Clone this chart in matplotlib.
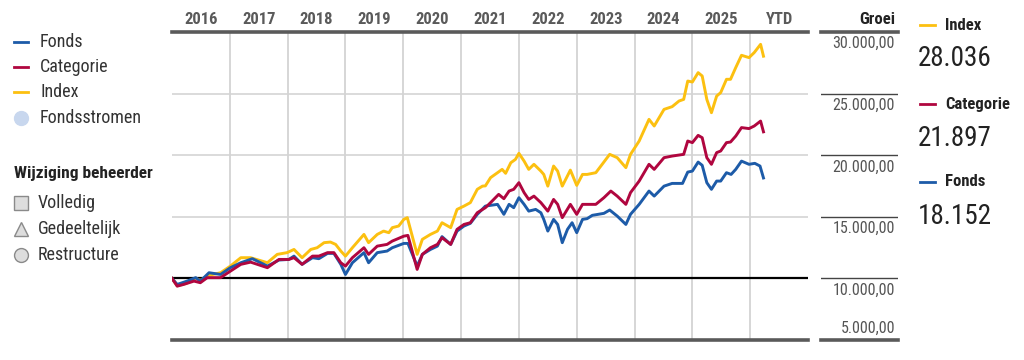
import numpy as np
import matplotlib
matplotlib.use("Agg")
import matplotlib.pyplot as plt
from matplotlib.lines import Line2D

plt.rcParams['font.family'] = ['Roboto Condensed', 'Barlow Semi Condensed', 'DejaVu Sans']

# Growth of 10.000, decimal years
index_t = [2016.00, 2016.09, 2016.25, 2016.41, 2016.49, 2016.63, 2016.84, 2017.01, 2017.19, 2017.36,
           2017.65, 2017.82, 2017.99, 2018.11, 2018.25, 2018.40, 2018.51, 2018.63, 2018.74, 2018.83,
           2018.92, 2019.00, 2019.12, 2019.32, 2019.40, 2019.55, 2019.66, 2019.75, 2019.81, 2019.92,
           2020.01, 2020.07, 2020.24, 2020.33, 2020.47, 2020.59, 2020.67, 2020.82, 2020.93, 2021.05,
           2021.16, 2021.28, 2021.37, 2021.42, 2021.51, 2021.63, 2021.71, 2021.77, 2021.86, 2021.94,
           2022.00, 2022.09, 2022.17, 2022.26, 2022.38, 2022.43, 2022.50, 2022.60, 2022.67, 2022.75,
           2022.89, 2023.00, 2023.10, 2023.18, 2023.33, 2023.44, 2023.57, 2023.70, 2023.85, 2023.93,
           2024.08, 2024.25, 2024.34, 2024.51, 2024.65, 2024.77, 2024.85, 2024.92, 2025.00, 2025.10,
           2025.17, 2025.25, 2025.33, 2025.42, 2025.49, 2025.59, 2025.66, 2025.75, 2025.85, 2025.98,
           2026.07, 2026.18, 2026.23]
index_v = [10000, 9400, 9600, 10000, 9840, 10240, 10460, 11000, 11680, 11680,
           11275, 11950, 12090, 12350, 11680, 12350, 12490, 12900, 12950, 12760,
           12220, 11810, 12490, 13570, 12900, 13570, 13840, 13710, 14120, 14250,
           14790, 14930, 11950, 13170, 13570, 13840, 14520, 14120, 15600, 15870,
           16150, 17230, 17490, 17510, 18180, 18580, 18850, 18530, 19390, 19660,
           20150, 19520, 18850, 19260, 18710, 18440, 17490, 19120, 18710, 17490,
           18790, 17550, 18440, 18440, 18580, 19260, 20070, 19800, 18990, 20070,
           21150, 22910, 22370, 23720, 23940, 24400, 24530, 26020, 25940, 26700,
           26430, 24530, 23450, 24800, 25080, 26160, 26160, 27110, 28110, 27920,
           28330, 29000, 28036]

cat_t = [2016.00, 2016.09, 2016.20, 2016.38, 2016.49, 2016.61, 2016.84, 2017.01, 2017.19, 2017.36,
         2017.65, 2017.85, 2018.02, 2018.11, 2018.25, 2018.43, 2018.54, 2018.69, 2018.80, 2018.92,
         2019.00, 2019.12, 2019.32, 2019.40, 2019.55, 2019.72, 2019.81, 2020.01, 2020.08, 2020.24,
         2020.33, 2020.47, 2020.59, 2020.67, 2020.82, 2020.93, 2021.05, 2021.16, 2021.28, 2021.42,
         2021.51, 2021.65, 2021.74, 2021.83, 2021.91, 2022.00, 2022.09, 2022.17, 2022.26, 2022.38,
         2022.50, 2022.60, 2022.67, 2022.75, 2022.89, 2023.00, 2023.10, 2023.33, 2023.47, 2023.59,
         2023.70, 2023.85, 2023.93, 2024.08, 2024.25, 2024.34, 2024.51, 2024.65, 2024.85, 2024.92,
         2025.00, 2025.10, 2025.17, 2025.25, 2025.33, 2025.42, 2025.49, 2025.59, 2025.66, 2025.75,
         2025.85, 2025.98, 2026.07, 2026.18, 2026.23]
cat_v = [10000, 9370, 9510, 9780, 9650, 10060, 10060, 10590, 11140, 11320,
         10870, 11540, 11540, 11680, 11140, 11810, 11810, 12090, 12090, 11270,
         11000, 11680, 12490, 11950, 12620, 12760, 13030, 13430, 13490, 10730,
         11950, 12490, 12760, 13300, 12760, 13980, 14380, 14520, 15330, 15740,
         16150, 16820, 16470, 17090, 17230, 17770, 16960, 16410, 16680, 16150,
         15460, 16410, 16010, 14930, 16010, 15200, 16010, 16010, 16550, 17090,
         16680, 16010, 16960, 17900, 19260, 18850, 19800, 19930, 20070, 21150,
         21020, 21610, 21420, 19800, 19260, 20210, 20340, 21020, 21070, 21550,
         22240, 22160, 22370, 22770, 21897]

fonds_t = [2016.00, 2016.09, 2016.26, 2016.41, 2016.49, 2016.64, 2016.84, 2017.01, 2017.19, 2017.39,
           2017.65, 2017.85, 2018.02, 2018.11, 2018.25, 2018.43, 2018.54, 2018.69, 2018.80, 2018.92,
           2019.00, 2019.12, 2019.32, 2019.40, 2019.55, 2019.72, 2019.81, 2020.01, 2020.08, 2020.24,
           2020.33, 2020.47, 2020.59, 2020.67, 2020.82, 2020.93, 2021.05, 2021.16, 2021.28, 2021.42,
           2021.51, 2021.63, 2021.74, 2021.83, 2021.91, 2022.00, 2022.09, 2022.17, 2022.29, 2022.38,
           2022.43, 2022.50, 2022.60, 2022.67, 2022.75, 2022.84, 2022.92, 2023.00, 2023.10, 2023.18,
           2023.27, 2023.47, 2023.57, 2023.70, 2023.85, 2023.93, 2024.08, 2024.25, 2024.34, 2024.51,
           2024.65, 2024.83, 2024.92, 2025.00, 2025.10, 2025.17, 2025.25, 2025.33, 2025.42, 2025.49,
           2025.59, 2025.67, 2025.75, 2025.85, 2025.98, 2026.08, 2026.17, 2026.23]
fonds_v = [10000, 9510, 9780, 10060, 9780, 10460, 10320, 10870, 11270, 11600,
           11000, 11490, 11540, 11810, 11140, 11680, 11600, 12030, 12030, 11140,
           10320, 11270, 12090, 11270, 12090, 12220, 12490, 12840, 12840, 11000,
           11950, 12350, 12620, 13390, 12760, 13840, 14250, 14470, 15200, 15870,
           15930, 16010, 15200, 16010, 15740, 16550, 16010, 15460, 15600, 15330,
           14790, 13840, 14790, 14380, 12900, 13980, 14520, 13710, 14790, 14850,
           15120, 15280, 15550, 15060, 14380, 15200, 16010, 17090, 16680, 17490,
           17710, 17710, 18630, 18710, 19440, 19180, 17770, 17230, 17900, 17900,
           18580, 18440, 18850, 19520, 19260, 19340, 19120, 18152]

year_labels = ['2016', '2017', '2018', '2019', '2020', '2021', '2022', '2023', '2024', '2025', 'YTD']
y_levels = [30000, 25000, 20000, 15000, 10000, 5000]
y_labels = ['30.000,00', '25.000,00', '20.000,00', '15.000,00', '10.000,00', '5.000,00']

final_names = ['Index', 'Categorie', 'Fonds']
final_values = ['28.036', '21.897', '18.152']

c_fonds = '#1d5ba8'
c_cat = '#b0063f'
c_index = '#fcc010'
dark = '#5a5a5a'
W, H = 1024, 360

fig = plt.figure(figsize=(W / 100, H / 100), dpi=100)
ax = fig.add_axes([172 / W, 1 - 340 / H, 636 / W, 308 / H])
ax.set_xlim(2016, 2027)
ax.set_ylim(5000, 30000)
ax.axis('off')

# grid
for i in range(1, len(year_labels)):
    ax.axvline(2016 + i, color='#cfcfcf', lw=1.2, zorder=1)
for v in [15000, 20000, 25000]:
    ax.axhline(v, color='#d4d4d4', lw=1.2, zorder=1)
ax.axhline(10000, color='black', lw=1.6, zorder=2)
ax.axhline(30000, color=dark, lw=2.6, zorder=2, clip_on=False)
ax.axhline(5000, color=dark, lw=2.6, zorder=2, clip_on=False)

for i, lab in enumerate(year_labels):
    ax.text(2016.5 + i, 31000, lab, ha='center', va='center', fontsize=12,
            fontweight='bold', color=dark, clip_on=False)

ax.plot(index_t, index_v, color=c_index, lw=2.1, zorder=3)
ax.plot(fonds_t, fonds_v, color=c_fonds, lw=2.1, zorder=4)
ax.plot(cat_t, cat_v, color=c_cat, lw=2.1, zorder=5)

# right value scale
ax2 = fig.add_axes([821 / W, 1 - 340 / H, 77 / W, 308 / H])
ax2.set_xlim(0, 1)
ax2.set_ylim(5000, 30000)
ax2.axis('off')
for v, lab in zip(y_levels, y_labels):
    if v in (30000, 5000):
        ax2.axhline(v, color=dark, lw=2.6, clip_on=False)
    else:
        ax2.axhline(v, color='#444444', lw=1.0)
    if v == 5000:
        ax2.text(0.96, v + 300, lab, ha='right', va='bottom', fontsize=11.5, color='#555555')
    else:
        ax2.text(0.96, v - 350, lab, ha='right', va='top', fontsize=11.5, color='#555555')
ax2.text(0.96, 31000, 'Groei', ha='right', va='center', fontsize=12,
         fontweight='bold', color='#222222', clip_on=False)


def fx(x):
    return x / W


def fy(y):
    return 1 - y / H


# right panel with final values
for name, val, col, y in zip(final_names, final_values, [c_index, c_cat, c_fonds], [25, 104, 182]):
    fig.add_artist(Line2D([fx(920), fx(935)], [fy(y), fy(y)], color=col, lw=2))
    fig.text(fx(945), fy(y), name, ha='left', va='center', fontsize=12,
             fontweight='bold', color='#222222')
    fig.text(fx(918), fy(y + 34), val, ha='left', va='center', fontsize=19.5, color='#222222')

# left legend
for name, col, y in zip(['Fonds', 'Categorie', 'Index'], [c_fonds, c_cat, c_index], [42, 67, 92]):
    fig.add_artist(Line2D([fx(14), fx(28)], [fy(y), fy(y)], color=col, lw=2))
    fig.text(fx(40), fy(y), name, ha='left', va='center', fontsize=13, color='#333333')
fig.add_artist(Line2D([fx(21)], [fy(118)], marker='o', markersize=10, color='#c8d7ee',
                      markeredgecolor='#c8d7ee', linestyle='none'))
fig.text(fx(40), fy(118), 'Fondsstromen', ha='left', va='center', fontsize=13, color='#333333')

fig.text(fx(14), fy(173), 'Wijziging beheerder', ha='left', va='center', fontsize=12.5,
         fontweight='bold', color='#222222')
for name, mk, y in zip(['Volledig', 'Gedeeltelijk', 'Restructure'], ['s', '^', 'o'], [203, 229, 255]):
    fig.add_artist(Line2D([fx(21)], [fy(y)], marker=mk, markersize=10, color='#dddddd',
                          markeredgecolor='#8a8a8a', markeredgewidth=1, linestyle='none'))
    fig.text(fx(38), fy(y), name, ha='left', va='center', fontsize=13, color='#333333')

fig.savefig('out.png', dpi=100)
